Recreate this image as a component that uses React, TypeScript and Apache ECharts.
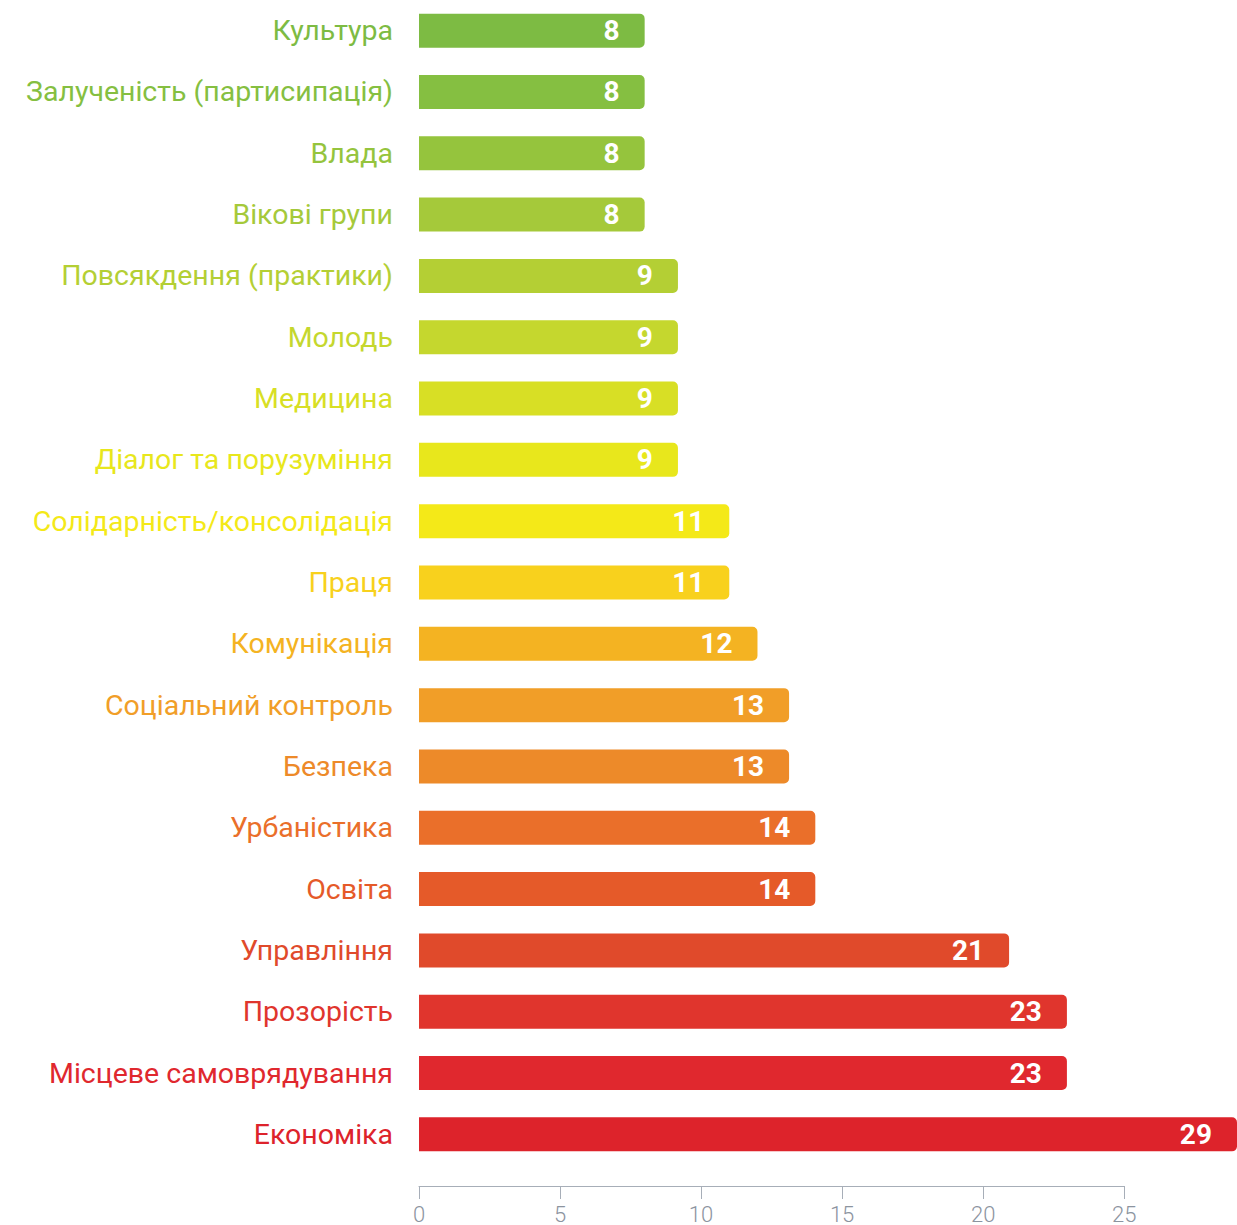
import React, { useEffect, useRef } from "react";
import * as echarts from "echarts";

const categories = [
  "Культура",
  "Залученість (партисипація)",
  "Влада",
  "Вікові групи",
  "Повсякдення (практики)",
  "Молодь",
  "Медицина",
  "Діалог та порузуміння",
  "Солідарність/консолідація",
  "Праця",
  "Комунікація",
  "Соціальний контроль",
  "Безпека",
  "Урбаністика",
  "Освіта",
  "Управління",
  "Прозорість",
  "Місцеве самоврядування",
  "Економіка",
];

// bar lengths; labels show the rounded value
const values = [8, 8, 8, 8, 9.18, 9.18, 9.18, 9.18, 11, 11, 12, 13.12, 13.12, 14.05, 14.05, 20.92, 22.97, 22.97, 29];

const colors = [
  "#7dbb43", "#85bf41", "#95c43d", "#a5c93a", "#b4cf34", "#c5d72e", "#d8df25",
  "#e8e71c", "#f4e918", "#f8d11d", "#f4b322", "#f19e28", "#ed8a29", "#ea6f2a",
  "#e55a29", "#e04a2b", "#e0352d", "#e0282e", "#dd232b",
];

const axisMax = 29;
const tickMax = 25;
const tickStep = 5;

export default function App() {
  const ref = useRef<HTMLDivElement>(null);
  useEffect(() => {
    document.body.style.margin = "0";
    if (!ref.current) return;
    const chart = echarts.init(ref.current, null, { renderer: "svg" });
    const plotLeft = 419;
    const plotWidth = 818;
    const unit = plotWidth / axisMax;
    chart.setOption({
      animation: false,
      grid: [
        { left: plotLeft, width: plotWidth, top: -3, height: 1168, containLabel: false },
        { left: plotLeft, width: unit * tickMax, top: 1100, height: 87, containLabel: false },
      ],
      xAxis: [
        {
          gridIndex: 0,
          type: "value",
          min: 0,
          max: axisMax,
          show: false,
        },
        {
          gridIndex: 1,
          type: "value",
          min: 0,
          max: tickMax,
          interval: tickStep,
          position: "bottom",
          splitLine: { show: false },
          axisLine: { show: true, lineStyle: { color: "#a7aeb8", width: 1 } },
          axisTick: { show: true, length: 13, lineStyle: { color: "#a7aeb8", width: 1 } },
          axisLabel: {
            margin: 17,
            color: "#8c949f",
            fontSize: 22,
            fontWeight: 300,
            fontFamily: "Roboto, sans-serif",
          },
        },
      ],
      yAxis: [
        {
          gridIndex: 0,
          type: "category",
          data: categories,
          inverse: true,
          axisLine: { show: false },
          axisTick: { show: false },
          axisLabel: {
            margin: 26,
            fontSize: 28.5,
            fontFamily: "Roboto, sans-serif",
            color: (_v: string, i: number) => colors[i],
          },
        },
        {
          gridIndex: 1,
          type: "value",
          show: false,
        },
      ],
      series: [
        {
          type: "bar",
          xAxisIndex: 0,
          yAxisIndex: 0,
          barWidth: 34,
          data: values.map((v, i) => ({
            value: v,
            itemStyle: { color: colors[i], borderRadius: [0, 5, 5, 0] },
          })),
          label: {
            show: true,
            position: "insideRight",
            distance: 25,
            color: "#ffffff",
            fontSize: 28,
            fontWeight: "bold",
            fontFamily: "Roboto, sans-serif",
            formatter: (p: any) => String(Math.round(p.value)),
          },
        },
      ],
    });
    return () => chart.dispose();
  }, []);
  return <div ref={ref} style={{ width: 1237, height: 1225 }} />;
}
